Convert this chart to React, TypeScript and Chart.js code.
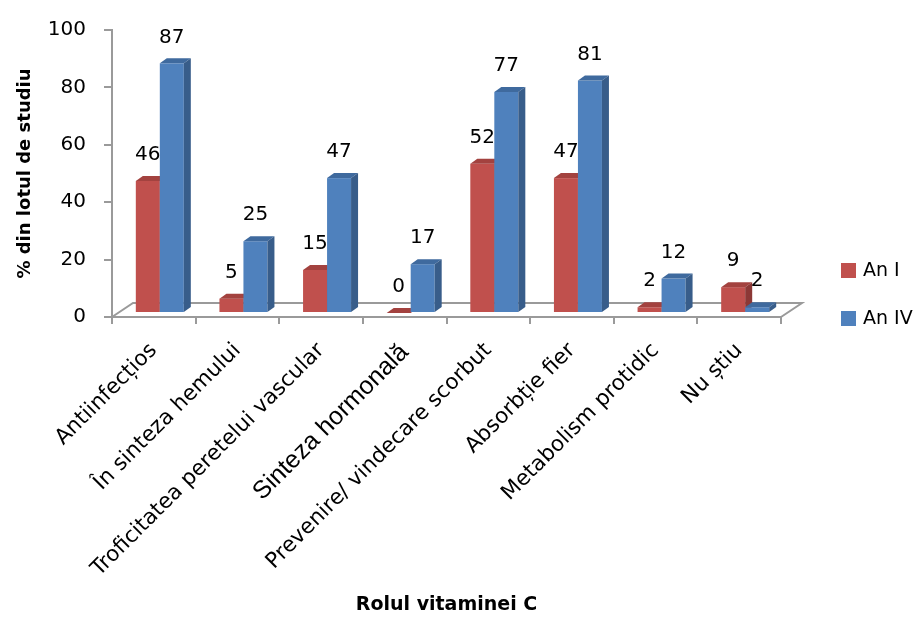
import React, { useEffect, useRef } from 'react';
import { Chart, registerables } from 'chart.js';

Chart.register(...registerables);

// Roles of vitamin C, answers per study year (% of group)
const categories = [
  'Antiinfecțios',
  'În sinteza hemului',
  'Troficitatea peretelui vascular',
  'Sinteza hormonală',
  'Prevenire/ vindecare scorbut',
  'Absorbție fier',
  'Metabolism protidic',
  'Nu știu',
];
const anI = [46, 5, 15, 0, 52, 47, 2, 9];
const anIV = [87, 25, 47, 17, 77, 81, 12, 2];
const seriesNames = ['An I', 'An IV'];
const yMax = 100;
const yStep = 20;

// face colours for the pseudo-3D columns
const FRONT = ['#C0504D', '#4F81BD'];
const TOP = ['#A3423F', '#3F6A9E'];
const SIDE = ['#8C3836', '#385D8A'];
const AXIS = '#9a9a9a';
const FONT = 'DejaVu Sans';

// floor depth vector and where the columns sit inside it
const FDX = 21;
const FDY = -14;
const OFF_X = Math.round(FDX * 0.3);
const OFF_Y = Math.round(FDY * 0.3);
const DEP_X = Math.round(FDX * 0.34);
const DEP_Y = Math.round(FDY * 0.34);

const poly = (ctx: CanvasRenderingContext2D, pts: number[][], fill: string) => {
  ctx.beginPath();
  ctx.moveTo(pts[0][0], pts[0][1]);
  for (let i = 1; i < pts.length; i++) ctx.lineTo(pts[i][0], pts[i][1]);
  ctx.closePath();
  ctx.fillStyle = fill;
  ctx.fill();
};

const columns3d = {
  id: 'columns3d',
  beforeDatasetsDraw(chart: any) {
    const { ctx, chartArea } = chart;
    const { left, right, bottom } = chartArea;
    ctx.save();
    ctx.strokeStyle = AXIS;
    ctx.lineWidth = 2;
    ctx.lineJoin = 'miter';
    ctx.beginPath();
    ctx.moveTo(left, bottom);
    ctx.lineTo(left + FDX, bottom + FDY);
    ctx.lineTo(right + FDX, bottom + FDY);
    ctx.lineTo(right, bottom);
    ctx.stroke();
    ctx.restore();
  },
  afterDatasetsDraw(chart: any) {
    const { ctx } = chart;
    const n = chart.data.labels.length;
    const metas = chart.data.datasets.map((_: any, i: number) => chart.getDatasetMeta(i));
    ctx.save();
    for (let i = 0; i < n; i++) {
      metas.forEach((meta: any, d: number) => {
        const el = meta.data[i];
        if (!el) return;
        const w = el.width;
        const x0 = el.x - w / 2 + OFF_X;
        const x1 = x0 + w;
        const yT = el.y + OFF_Y;
        const yB = el.base + OFF_Y;
        // front face
        ctx.fillStyle = FRONT[d];
        ctx.fillRect(x0, yT, w, yB - yT);
        // top face
        poly(ctx, [[x0, yT], [x1, yT], [x1 + DEP_X, yT + DEP_Y], [x0 + DEP_X, yT + DEP_Y]], TOP[d]);
        // side face
        poly(ctx, [[x1, yT], [x1 + DEP_X, yT + DEP_Y], [x1 + DEP_X, yB + DEP_Y], [x1, yB]], SIDE[d]);
      });
    }
    ctx.restore();
  },
  afterDraw(chart: any) {
    const { ctx } = chart;
    ctx.save();
    // value labels
    ctx.fillStyle = '#000';
    ctx.font = `20px "${FONT}"`;
    ctx.textAlign = 'center';
    ctx.textBaseline = 'middle';
    chart.data.datasets.forEach((ds: any, d: number) => {
      const meta = chart.getDatasetMeta(d);
      meta.data.forEach((el: any, i: number) => {
        ctx.fillText(String(ds.data[i]), el.x + OFF_X, el.y + OFF_Y - 26);
      });
    });
    // legend
    ctx.textAlign = 'left';
    ctx.font = `19px "${FONT}"`;
    chart.data.datasets.forEach((ds: any, d: number) => {
      const y = 263 + d * 48;
      ctx.fillStyle = FRONT[d];
      ctx.fillRect(841, y, 15, 15);
      ctx.fillStyle = '#000';
      ctx.fillText(ds.label, 863, y + 8);
    });
    ctx.restore();
  },
};

export default function App() {
  const canvasRef = useRef<HTMLCanvasElement | null>(null);

  useEffect(() => {
    if (!canvasRef.current) return;
    const chart = new Chart(canvasRef.current, {
      type: 'bar',
      data: {
        labels: categories,
        datasets: [
          { label: seriesNames[0], data: anI },
          { label: seriesNames[1], data: anIV },
        ].map((ds) => ({
          ...ds,
          backgroundColor: 'rgba(0,0,0,0)',
          borderWidth: 0,
          categoryPercentage: 0.574,
          barPercentage: 1,
        })),
      },
      options: {
        animation: false,
        responsive: true,
        maintainAspectRatio: false,
        layout: { padding: { top: 23, right: 139, bottom: 0, left: 0 } },
        plugins: {
          legend: { display: false },
          tooltip: { enabled: false },
        },
        scales: {
          x: {
            offset: true,
            grid: {
              offset: true,
              drawOnChartArea: false,
              drawTicks: true,
              tickLength: 7,
              color: AXIS,
              lineWidth: 2,
            },
            border: { display: true, color: AXIS, width: 2 },
            ticks: {
              autoSkip: false,
              minRotation: 45,
              maxRotation: 45,
              padding: 14,
              color: '#000',
              font: (c: any) =>
                c.index === 3
                  ? { family: 'Liberation Sans', size: 25 }
                  : { family: FONT, size: 21.5 },
            },
            title: {
              display: true,
              text: 'Rolul vitaminei C',
              color: '#000',
              font: { family: FONT, size: 19, weight: 'bold' },
              padding: { top: 0, bottom: 5 },
            },
            afterFit: (s: any) => {
              s.height = 304;
            },
          },
          y: {
            min: 0,
            max: yMax,
            ticks: {
              stepSize: yStep,
              padding: 18,
              color: '#000',
              font: { family: FONT, size: 20 },
            },
            grid: {
              drawOnChartArea: false,
              drawTicks: true,
              tickLength: 8,
              color: AXIS,
              lineWidth: 2,
            },
            border: { display: true, color: AXIS, width: 2 },
            title: {
              display: true,
              text: '% din lotul de studiu',
              color: '#000',
              font: { family: FONT, size: 18, weight: 'bold' },
              padding: { top: 15, bottom: 0 },
            },
            afterFit: (s: any) => {
              s.width = 112;
            },
          },
        },
      },
      plugins: [columns3d],
    });
    return () => chart.destroy();
  }, []);

  return (
    <div style={{ position: 'fixed', left: 0, top: 0, width: 920, height: 621, background: '#fff' }}>
      <canvas ref={canvasRef} />
    </div>
  );
}
